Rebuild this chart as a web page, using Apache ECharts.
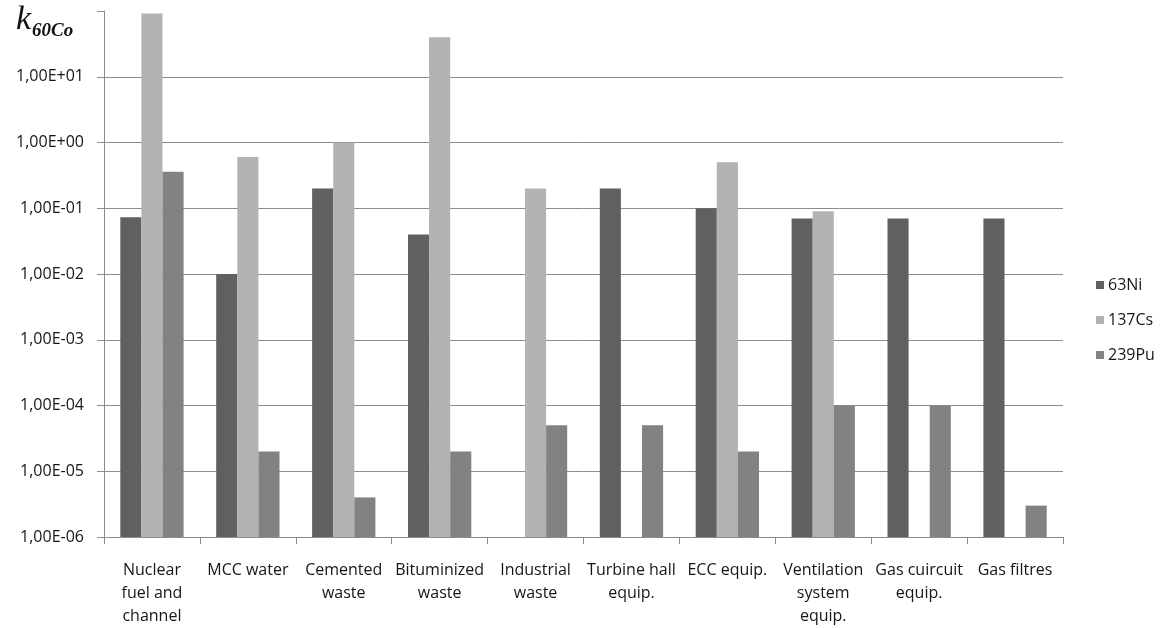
<!DOCTYPE html>
<html>
<head>
<meta charset="utf-8">
<style>
  html, body { margin: 0; padding: 0; background: #ffffff; }
  #chart { width: 1164px; height: 628px; }
</style>
<script src="https://cdn.jsdelivr.net/npm/echarts@6/dist/echarts.min.js"></script>
</head>
<body>
<div id="chart"></div>
<script>
// Sample categories (wrapped as in the axis labels)
const categories = [
  'Nuclear\nfuel and\nchannel',
  'MCC water',
  'Cemented\nwaste',
  'Bituminized\nwaste',
  'Industrial\nwaste',
  'Turbine hall\nequip.',
  'ECC equip.',
  'Ventilation\nsystem\nequip.',
  'Gas cuircuit\nequip.',
  'Gas filtres'
];

// Scaling factors relative to 60Co (null = not determined)
const ni63  = [0.073, 0.01, 0.2, 0.04, null, 0.2, 0.1, 0.07, 0.07, 0.07];
const cs137 = [92, 0.6, 1.0, 40, 0.2, null, 0.5, 0.09, null, null];
const pu239 = [0.36, 2e-5, 4e-6, 2e-5, 5e-5, 5e-5, 2e-5, 1e-4, 1e-4, 3e-6];

const seriesNames = ['63Ni', '137Cs', '239Pu'];
const seriesColors = ['#606060', '#b2b2b2', '#828282'];

// Decades shown on the logarithmic scale: 1E-06 .. 1E+02
const minExp = -6;
const maxExp = 2;

const labelFont = '"Open Sans", "Noto Sans", sans-serif';
const textColor = '#161616';

// Bars grow from the bottom of the scale, so the value axis is laid out
// in decades above 1E-06 and labelled back in scientific notation.
function toDecades(arr) {
  return arr.map(v => (v == null ? null : Math.log10(v) - minExp));
}

function sciLabel(d) {
  const e = Math.round(d + minExp);
  if (e >= maxExp) return '';
  const sign = e < 0 ? '-' : '+';
  const a = Math.abs(e);
  return '1,00E' + sign + (a < 10 ? '0' : '') + a;
}

const chart = echarts.init(document.getElementById('chart'), null, { renderer: 'canvas' });

const nLines = maxExp - minExp + 1;
const gridColors = [];
for (let i = 0; i < nLines; i++) gridColors.push(i === nLines - 1 ? 'rgba(0,0,0,0)' : '#8c8c8c');

chart.setOption({
  animation: false,
  backgroundColor: '#ffffff',
  grid: { left: 104, right: 101, top: 11, bottom: 90, containLabel: false },
  legend: {
    orient: 'vertical',
    left: 1091,
    top: 272,
    itemWidth: 8,
    itemHeight: 8,
    itemGap: 19,
    icon: 'rect',
    textStyle: { fontFamily: labelFont, fontSize: 16, color: textColor, padding: [0, 0, 0, -1] },
    data: seriesNames
  },
  graphic: [
    {
      type: 'text', left: 16, top: 3,
      style: { text: 'k', font: 'italic 34px "Liberation Serif", serif', fill: '#111111' }
    },
    {
      type: 'text', left: 32, top: 22,
      style: { text: '60Co', font: 'italic bold 19px "Liberation Serif", serif', fill: '#111111' }
    }
  ],
  tooltip: {
    trigger: 'item',
    valueFormatter: d => (d == null ? '-' : Math.pow(10, d + minExp).toExponential(2))
  },
  xAxis: {
    type: 'category',
    data: categories,
    axisLine: { show: true, lineStyle: { color: '#8c8c8c', width: 1 } },
    axisTick: { show: true, length: 7, alignWithLabel: false, lineStyle: { color: '#8c8c8c' } },
    axisLabel: {
      interval: 0,
      margin: 22,
      fontFamily: labelFont,
      fontSize: 16,
      lineHeight: 23,
      color: textColor,
      align: 'center'
    },
    splitLine: { show: false }
  },
  yAxis: {
    type: 'value',
    min: 0,
    max: maxExp - minExp,
    interval: 1,
    axisLine: { show: true, lineStyle: { color: '#8c8c8c', width: 1 } },
    axisTick: { show: true, length: 7, lineStyle: { color: '#8c8c8c' } },
    axisLabel: {
      formatter: sciLabel,
      fontFamily: labelFont,
      fontSize: 16,
      color: textColor,
      margin: 20
    },
    splitLine: { show: true, lineStyle: { color: gridColors, width: 1 } }
  },
  series: [
    { name: seriesNames[0], type: 'bar', data: toDecades(ni63), barGap: '0%', barCategoryGap: '34%',
      itemStyle: { color: seriesColors[0] } },
    { name: seriesNames[1], type: 'bar', data: toDecades(cs137), barGap: '0%', barCategoryGap: '34%',
      itemStyle: { color: seriesColors[1] } },
    { name: seriesNames[2], type: 'bar', data: toDecades(pu239), barGap: '0%', barCategoryGap: '34%',
      itemStyle: { color: seriesColors[2] } }
  ]
});
</script>
</body>
</html>
